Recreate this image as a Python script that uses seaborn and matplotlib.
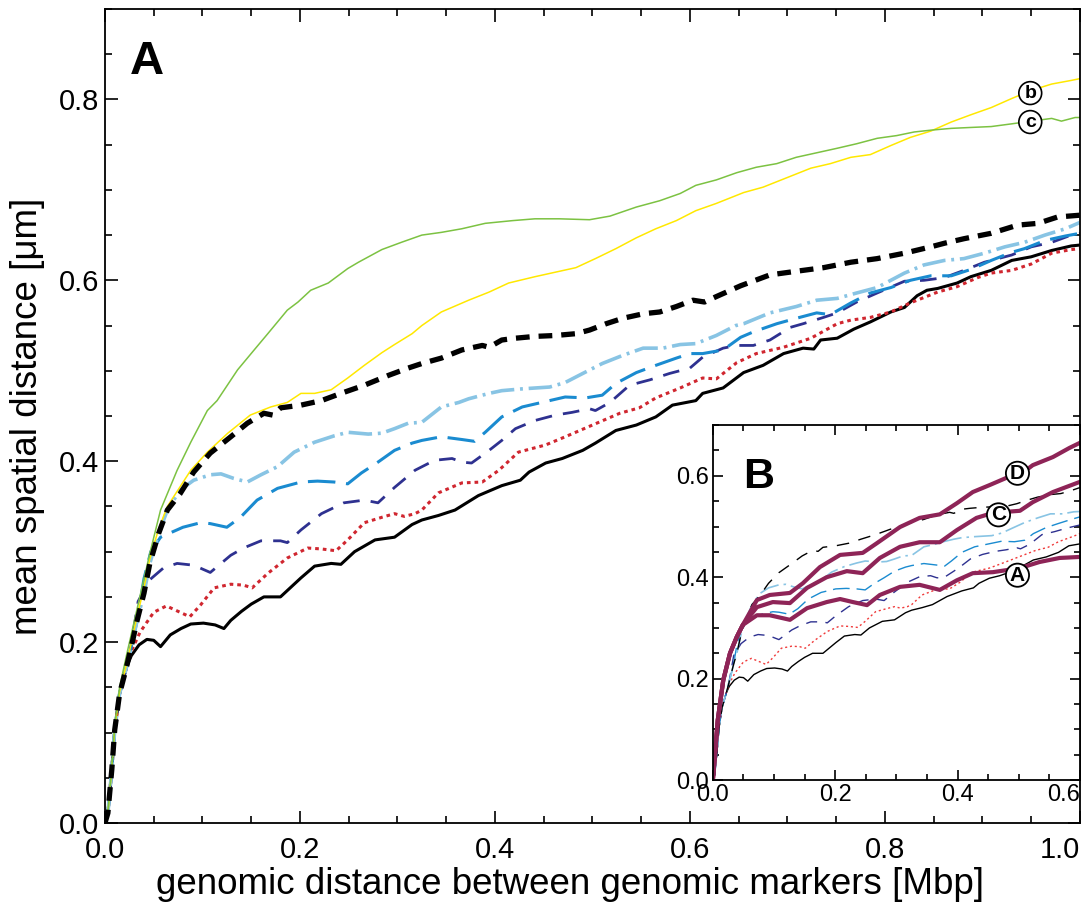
import matplotlib
matplotlib.use("Agg")
import matplotlib.pyplot as plt
import seaborn as sns

sns.set_style("ticks")
plt.rcParams['font.family'] = ['Liberation Sans', 'DejaVu Sans']
plt.rcParams['text.color'] = 'black'
plt.rcParams['axes.labelcolor'] = 'black'
plt.rcParams['xtick.color'] = 'black'
plt.rcParams['ytick.color'] = 'black'

# ---- main panel curves (genomic distance [Mbp], mean spatial distance [um]) ----
bs_x = [0, .003, .007, .010, .015, .022, .027, .035, .043, .050,
        .057, .067, .078, .088, .101, .113, .122, .129, .140, .150,
        .163, .180, .190, .201, .215, .232, .242, .256, .277, .297,
        .315, .325, .342, .359, .383, .407, .426, .435, .452, .469,
        .490, .503, .524, .545, .565, .582, .606, .613, .634, .655,
        .675, .696, .716, .727, .734, .751, .768, .785, .806, .820,
        .833, .843, .854, .874, .888, .909, .930, .950, .971, .991, 1.0]
bs_y = [0, .011, .059, .103, .143, .172, .185, .197, .203, .202,
        .195, .208, .215, .220, .221, .219, .215, .224, .234, .242,
        .250, .250, .260, .271, .284, .287, .286, .300, .313, .316,
        .330, .335, .340, .346, .362, .373, .379, .388, .398, .403,
        .412, .420, .434, .440, .449, .462, .467, .475, .481, .498,
        .506, .519, .525, .524, .534, .536, .546, .554, .565, .570,
        .583, .589, .591, .597, .604, .611, .622, .626, .633, .638, .639]

red_x = [0, .003, .007, .010, .015, .022, .027, .036, .050, .063,
         .077, .087, .098, .112, .129, .142, .151, .167, .187, .208,
         .222, .237, .249, .266, .284, .297, .307, .318, .325, .342,
         .366, .387, .404, .424, .452, .472, .500, .528, .548, .565,
         .590, .613, .627, .648, .668, .696, .724, .751, .765, .785,
         .806, .826, .854, .874, .895, .909, .930, .950, .971, .991, 1.0]
red_y = [0, .011, .059, .103, .143, .172, .190, .211, .233, .240,
         .233, .228, .241, .260, .264, .263, .260, .276, .293, .304,
         .303, .301, .313, .332, .338, .342, .339, .342, .346, .365,
         .376, .377, .390, .410, .418, .427, .440, .453, .459, .470,
         .481, .492, .491, .509, .519, .526, .536, .552, .556, .559,
         .565, .575, .587, .593, .603, .608, .611, .618, .630, .634, .635]

navy_x = [0, .003, .007, .010, .015, .022, .027, .034, .046, .060,
          .074, .091, .108, .129, .142, .160, .180, .187, .201, .222,
          .245, .266, .280, .297, .318, .338, .356, .366, .376, .394,
          .407, .421, .441, .462, .479, .497, .503, .518, .538, .559,
          .579, .600, .613, .634, .648, .665, .682, .703, .716, .737,
          .751, .771, .792, .820, .840, .861, .881, .902, .930, .950,
          .971, .991, 1.0]
navy_y = [0, .011, .059, .103, .143, .172, .197, .245, .269, .282,
          .287, .285, .277, .296, .304, .312, .312, .310, .324, .342,
          .354, .357, .354, .371, .390, .401, .403, .399, .398, .412,
          .423, .436, .445, .451, .454, .458, .456, .465, .484, .490,
          .497, .503, .515, .525, .528, .528, .534, .548, .552, .559,
          .564, .576, .586, .599, .600, .603, .611, .620, .628, .637,
          .642, .650, .652]

blue_x = [0, .003, .007, .010, .015, .022, .027, .033, .040, .047,
          .057, .080, .098, .108, .125, .139, .156, .177, .201, .218,
          .235, .249, .263, .280, .297, .315, .325, .345, .366, .379,
          .390, .407, .428, .448, .472, .493, .510, .524, .545, .565,
          .586, .600, .613, .634, .652, .665, .689, .709, .730, .744,
          .765, .785, .806, .826, .847, .868, .888, .909, .930, .943,
          .964, .985, 1.0]
blue_y = [0, .011, .059, .103, .143, .172, .195, .224, .270, .300,
          .316, .327, .332, .331, .327, .338, .357, .370, .377, .378,
          .377, .375, .387, .399, .412, .420, .423, .427, .424, .422,
          .432, .449, .460, .465, .471, .470, .473, .486, .498, .506,
          .514, .519, .519, .523, .537, .543, .552, .558, .564, .562,
          .575, .586, .592, .600, .605, .605, .612, .622, .631, .635,
          .644, .649, .652]

lblue_x = [0, .003, .007, .010, .015, .022, .027, .033, .040, .046,
           .055, .064, .077, .091, .108, .119, .132, .146, .160, .177,
           .194, .215, .235, .249, .270, .284, .297, .311, .325, .345,
           .363, .373, .394, .407, .428, .456, .472, .490, .510, .531,
           .552, .572, .590, .606, .627, .647, .655, .682, .709, .730,
           .751, .771, .792, .820, .840, .861, .881, .902, .923, .943,
           .964, .985, 1.0]
lblue_y = [0, .011, .059, .103, .143, .172, .195, .224, .254, .287,
           .320, .346, .368, .379, .385, .386, .381, .377, .385, .394,
           .410, .421, .428, .432, .430, .431, .436, .442, .443, .460,
           .465, .469, .475, .478, .480, .482, .487, .497, .508, .517,
           .525, .525, .529, .530, .539, .550, .552, .564, .571, .578,
           .580, .586, .592, .608, .617, .622, .624, .630, .637, .642,
           .650, .657, .664]

bdash_x = [0, .003, .007, .010, .015, .022, .027, .033, .040, .046,
           .055, .064, .077, .091, .108, .129, .146, .163, .172, .180,
           .201, .222, .242, .266, .291, .311, .325, .345, .366, .387,
           .394, .407, .421, .441, .462, .483, .497, .514, .531, .552,
           .569, .586, .603, .615, .627, .652, .682, .709, .737, .765,
           .792, .820, .847, .861, .881, .909, .936, .957, .977, 1.0]
bdash_y = [0, .011, .059, .103, .143, .172, .195, .224, .254, .287,
           .320, .346, .364, .388, .409, .427, .442, .453, .451, .459,
           .462, .467, .475, .484, .495, .503, .508, .514, .523, .528,
           .526, .534, .536, .538, .539, .541, .545, .552, .558, .563,
           .565, .571, .578, .576, .582, .594, .606, .610, .614, .620,
           .624, .630, .637, .641, .646, .652, .661, .663, .670, .672]

yel_x = [0, .003, .007, .010, .015, .022, .027, .033, .040, .046,
         .055, .064, .088, .105, .126, .149, .170, .187, .201, .215,
         .232, .249, .266, .284, .297, .315, .325, .345, .373, .394,
         .414, .441, .462, .483, .503, .524, .545, .565, .586, .606,
         .627, .655, .675, .703, .724, .744, .765, .785, .806, .826,
         .847, .868, .888, .909, .930, .950, .971, .991, 1.0]
yel_y = [0, .011, .060, .104, .145, .175, .199, .229, .260, .292,
         .325, .350, .390, .410, .431, .451, .460, .465, .475, .475,
         .479, .492, .506, .520, .529, .541, .550, .565, .578, .587,
         .597, .604, .609, .614, .624, .635, .647, .657, .666, .677,
         .685, .697, .703, .715, .724, .729, .736, .739, .749, .758,
         .765, .775, .783, .791, .801, .810, .817, .821, .823]

grn_x = [0, .003, .007, .010, .015, .022, .033, .046, .057, .074,
         .088, .105, .115, .136, .153, .167, .187, .198, .211, .229,
         .249, .260, .284, .304, .325, .345, .366, .390, .418, .441,
         .466, .497, .518, .545, .569, .590, .606, .627, .648, .668,
         .689, .709, .730, .751, .771, .792, .812, .830, .847, .868,
         .888, .909, .930, .950, .971, .981, .995, 1.0]
grn_y = [0, .012, .062, .108, .150, .185, .237, .298, .346, .390,
         .421, .456, .467, .501, .523, .541, .567, .576, .589, .597,
         .613, .620, .634, .642, .650, .653, .657, .663, .666, .668,
         .668, .667, .671, .681, .688, .696, .705, .711, .719, .725,
         .729, .736, .741, .746, .751, .757, .760, .764, .766, .768,
         .769, .770, .773, .776, .779, .776, .780, .780]

# ---- inset-only curves (A, C, D) ----
crvD_x = [0, .008, .017, .028, .039, .049, .072, .093, .126, .147,
          .175, .208, .245, .268, .306, .338, .371, .399, .425, .453,
          .480, .502, .523, .556, .583, .600]
crvD_y = [0, .118, .197, .250, .282, .306, .355, .365, .369, .388,
          .420, .444, .448, .467, .499, .517, .524, .546, .568, .582,
          .596, .602, .621, .637, .655, .665]
crvC_x = [0, .008, .017, .028, .039, .049, .072, .098, .126, .154,
          .186, .219, .245, .273, .306, .338, .371, .399, .431, .458,
          .502, .523, .556, .600]
crvC_y = [0, .118, .197, .250, .282, .306, .341, .351, .349, .379,
          .400, .412, .408, .438, .460, .469, .469, .493, .517, .527,
          .531, .548, .568, .588]
crvA_x = [0, .008, .017, .028, .039, .049, .072, .093, .126, .154,
          .186, .208, .229, .252, .273, .306, .338, .371, .399, .425,
          .458, .502, .534, .567, .600]
crvA_y = [0, .118, .197, .250, .282, .306, .325, .325, .316, .339,
          .351, .357, .351, .345, .365, .381, .385, .375, .394, .408,
          .410, .418, .430, .438, .440]

main_xticks = [0.0, 0.2, 0.4, 0.6, 0.8, 1.0]
main_yticks = [0.0, 0.2, 0.4, 0.6, 0.8]
inset_xticks = [0.0, 0.2, 0.4, 0.6]
inset_yticks = [0.0, 0.2, 0.4, 0.6]


def line(ax, x, y, color, lw, ls="-", **kw):
    sns.lineplot(x=x, y=y, ax=ax, color=color, linewidth=lw, linestyle=ls,
                 estimator=None, sort=False, legend=False, **kw)


def style_axes(ax, xmajor, ymajor, size, major_len, minor_len):
    ax.minorticks_on()
    ax.xaxis.set_minor_locator(matplotlib.ticker.MultipleLocator(0.05))
    ax.yaxis.set_minor_locator(matplotlib.ticker.MultipleLocator(0.05))
    ax.set_xticks(xmajor)
    ax.set_yticks(ymajor)
    ax.set_xticklabels([f"{v:.1f}" for v in xmajor])
    ax.set_yticklabels([f"{v:.1f}" for v in ymajor])
    ax.tick_params(which="both", direction="in", top=True, right=True,
                   labelsize=size, width=1.2, color="black",
                   labelcolor="black")
    ax.tick_params(which="major", length=major_len)
    ax.tick_params(which="minor", length=minor_len)
    for s in ax.spines.values():
        s.set_linewidth(1.3)
        s.set_color("black")


fig = plt.figure(figsize=(10.9, 9.06), dpi=100)
ax = fig.add_axes([0.0963, 0.0916, 0.8945, 0.8985])

line(ax, bs_x, bs_y, "black", 2.2)
line(ax, red_x, red_y, "#d0262f", 2.2, (0, (1.2, 1.3)))
line(ax, navy_x, navy_y, "#2e3190", 2.0, (0, (6, 4)))
line(ax, blue_x, blue_y, "#1a8bd0", 2.2, (0, (9, 3.5)))
line(ax, lblue_x, lblue_y, "#88c4e4", 2.6, (0, (6.5, 1.6, 0.8, 1.6)))
line(ax, yel_x, yel_y, "#ffe800", 1.1)
line(ax, grn_x, grn_y, "#7cc242", 1.1)
line(ax, bdash_x, bdash_y, "black", 3.8, (0, (2.6, 1.7)))

ax.set_xlim(0, 1.0)
ax.set_ylim(0, 0.9)
style_axes(ax, main_xticks, main_yticks, 21, 9, 5)
ax.tick_params(axis="x", pad=9)
ax.tick_params(axis="y", pad=4)
ax.get_xticklabels()[-1].set_horizontalalignment("right")
ax.set_xlabel("genomic distance between genomic markers [Mbp]", fontsize=26.5)
ax.set_ylabel("mean spatial distance [\u03bcm]", fontsize=26.5)
ax.xaxis.set_label_coords(0.477, -0.054)
ax.yaxis.set_label_coords(-0.062, 0.5)

ax.text(0.026, 0.828, "A", fontsize=34, fontweight="bold")
circ = dict(boxstyle="circle,pad=0.15", fc="white", ec="black", lw=1.2)
ax.text(0.949, 0.807, "b", fontsize=14, fontweight="bold", ha="center",
        va="center", bbox=circ)
ax.text(0.949, 0.775, "c", fontsize=14, fontweight="bold", ha="center",
        va="center", bbox=circ)

# ---- inset ----
axi = fig.add_axes([0.654, 0.139, 0.3367, 0.3918])
axi.set_facecolor("white")
line(axi, bs_x, bs_y, "black", 1.0)
line(axi, red_x, red_y, "#f03a3a", 1.0, (0, (1.5, 2)))
line(axi, navy_x, navy_y, "#2e3190", 1.0, (0, (8, 6)))
line(axi, blue_x, blue_y, "#1a8bd0", 1.0, (0, (12, 5)))
line(axi, lblue_x, lblue_y, "#88c4e4", 1.2, (0, (12, 3, 1.5, 3)))
line(axi, bdash_x, bdash_y, "black", 1.0, (0, (9, 7)))
for cx, cy in [(crvA_x, crvA_y), (crvC_x, crvC_y), (crvD_x, crvD_y)]:
    line(axi, cx, cy, "#8e2457", 3.0)

axi.set_xlim(0, 0.6)
axi.set_ylim(0, 0.7)
style_axes(axi, inset_xticks, inset_yticks, 17, 7, 4)
axi.tick_params(axis="both", pad=3)
axi.get_xticklabels()[-1].set_horizontalalignment("right")
axi.set_xlabel("")
axi.set_ylabel("")

axi.text(0.049, 0.576, "B", fontsize=31, fontweight="bold")
circ2 = dict(boxstyle="circle,pad=0.1", fc="white", ec="black", lw=1.3)
for lab, lx, ly in [("D", 0.498, 0.605), ("C", 0.467, 0.523), ("A", 0.498, 0.404)]:
    axi.text(lx, ly, lab, fontsize=15, fontweight="bold", ha="center",
             va="center", bbox=circ2)

fig.savefig("out.png", dpi=100)
